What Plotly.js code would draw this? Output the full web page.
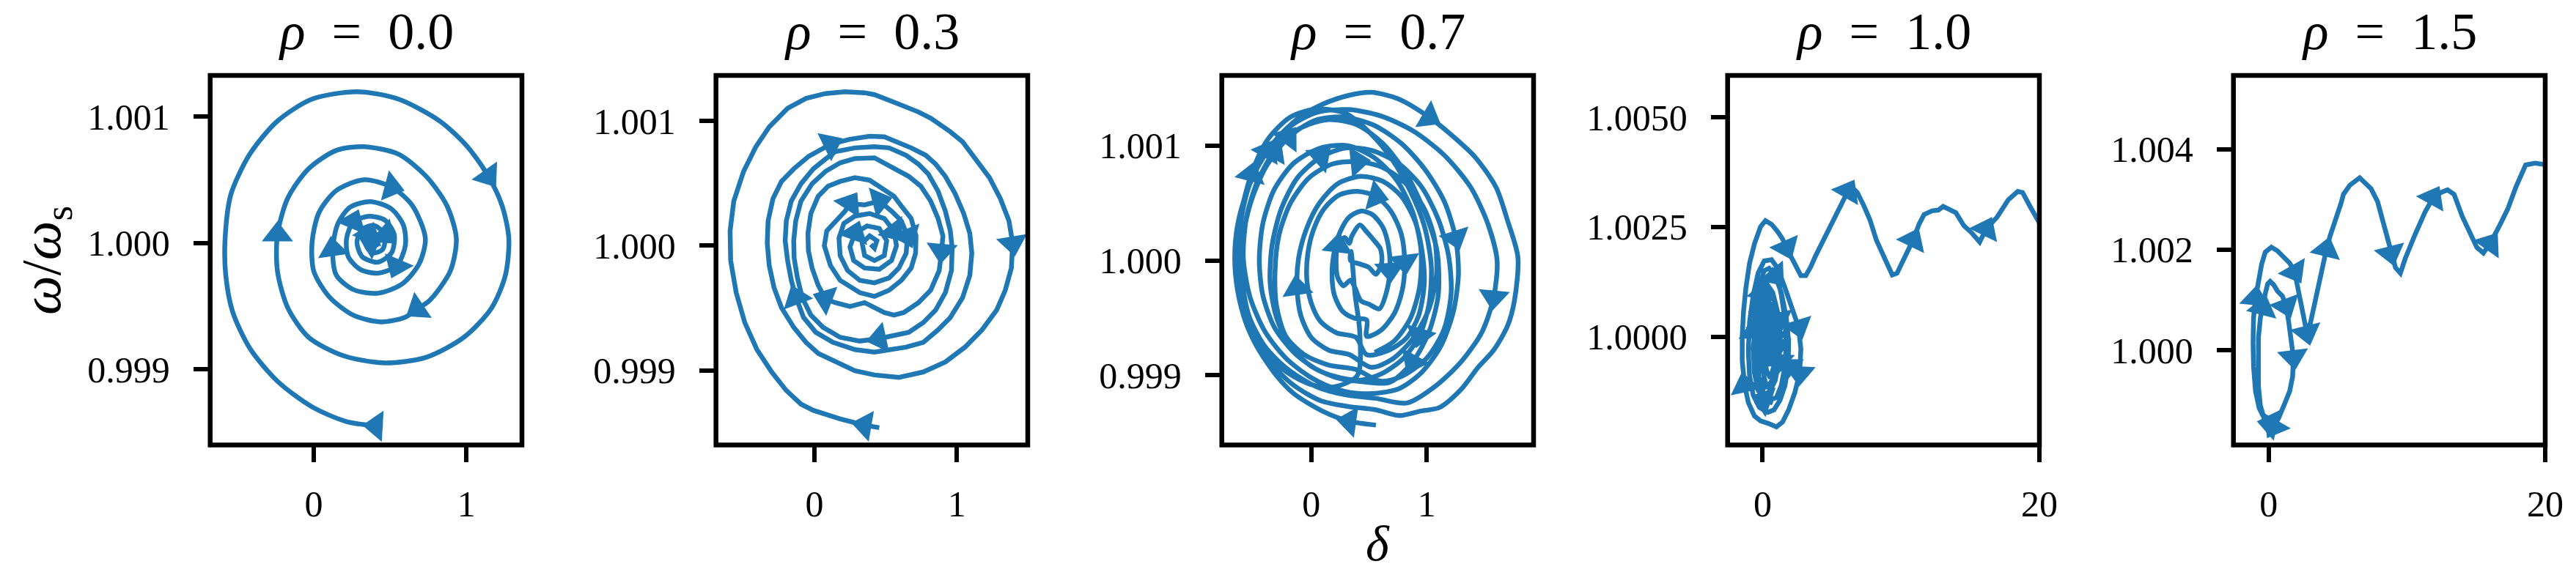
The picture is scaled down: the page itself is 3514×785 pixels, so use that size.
<!DOCTYPE html>
<html><head><meta charset="utf-8">
<script src="https://cdn.plot.ly/plotly-3.0.1.min.js"></script>
<style>html,body{margin:0;padding:0;background:#fff}#chart{width:3514px;height:785px}</style>
</head><body><div id="chart"></div>
<script>
// ---------- data ----------
const rhoLabels = ['0.0', '0.3', '0.7', '1.0', '1.5'];

// rho = 0.0 : delta, omega/omega_s
const p1x = [0.452,0.407,0.215,-0.011,-0.238,-0.419,-0.532,-0.577,-0.581,-0.543,-0.419,-0.238,-0.011,0.283,0.554,0.826,1.007,1.143,1.233,1.278,1.256,1.165,0.984,0.735,0.464,0.192,-0.034,-0.170,-0.238,-0.238,-0.170,-0.034,0.147,0.328,0.554,0.735,0.871,0.934,0.894,0.758,0.679,0.600,0.441,0.260,0.102,0.000,-0.011,0.034,0.147,0.328,0.509,0.645,0.731,0.690,0.577,0.419,0.260,0.147,0.124,0.158,0.238,0.373,0.509,0.588,0.600,0.543,0.419,0.305,0.226,0.215,0.260,0.362,0.464,0.527,0.509,0.419,0.317,0.283,0.317,0.396,0.464,0.452,0.385,0.339,0.362,0.419,0.414,0.378,0.391];
const p1y = [0.998551,0.998554,0.998588,0.998704,0.998907,0.999168,0.999458,0.999748,1.000038,1.000386,1.000704,1.000965,1.001139,1.001197,1.001139,1.000965,1.000762,1.000530,1.000299,1.000038,0.999748,0.999487,0.999255,0.999096,0.999052,0.999110,0.999255,0.999487,0.999777,1.000067,1.000357,1.000588,1.000733,1.000762,1.000704,1.000530,1.000299,1.000038,0.999777,0.999545,0.999481,0.999414,0.999377,0.999429,0.999574,0.999777,1.000009,1.000241,1.000415,1.000501,1.000443,1.000299,1.000038,0.999835,0.999675,0.999603,0.999632,0.999748,0.999951,1.000154,1.000284,1.000328,1.000270,1.000139,0.999980,0.999820,0.999762,0.999791,0.999893,1.000038,1.000168,1.000212,1.000183,1.000067,0.999922,0.999849,0.999893,1.000009,1.000110,1.000139,1.000067,0.999951,0.999922,0.999994,1.000067,1.000052,0.999986,1.000003,1.000032];
const p1Arrows = [1,17,29,40,50,58,65,70,80,84,87];

// rho = 0.3
const p2x = [0.455,0.352,0.180,-0.009,-0.095,-0.198,-0.301,-0.404,-0.490,-0.550,-0.589,-0.593,-0.567,-0.498,-0.412,-0.318,-0.189,-0.060,0.077,0.215,0.352,0.421,0.558,0.730,0.816,0.954,1.040,1.143,1.229,1.306,1.366,1.392,1.383,1.340,1.280,1.177,1.057,0.919,0.765,0.593,0.421,0.284,0.146,0.026,-0.060,
 -0.146,-0.232,-0.284,-0.318,-0.332,-0.326,-0.292,-0.232,-0.146,-0.043,0.060,0.112,0.249,0.387,0.490,0.576,0.679,0.782,0.851,0.919,0.988,1.048,1.091,1.105,1.091,1.040,0.954,0.868,0.765,0.644,0.541,0.421,0.284,0.129,0.009,-0.077,-0.129,
 -0.163,-0.189,-0.206,-0.198,-0.163,-0.095,-0.009,0.077,0.146,0.284,0.421,0.524,0.644,0.730,0.799,0.868,0.919,0.954,0.967,0.962,0.919,0.851,0.765,0.662,0.576,0.455,0.318,0.180,0.060,-0.026,-0.086,-0.120,-0.143,-0.146,-0.132,-0.095,-0.017,0.077,0.180,0.284,0.421,0.541,0.662,0.747,0.816,0.868,0.902,0.893,0.876,0.816,0.730,0.627,0.558,0.490,0.421,0.352,0.249,0.146,0.077,0.026,-0.017,-0.043,-0.046,-0.026,0.026,0.095,0.180,0.284,0.387,0.473,0.558,0.610,0.679,0.713,0.710,0.679,0.610,0.524,0.421,0.318,0.180,0.112,0.069,0.086,0.146,0.215,0.249,0.352,0.455,0.541,0.610,0.653,0.644,0.593,0.524,0.421,0.318,0.232,0.180,0.172,0.206,0.284,0.387,0.490,0.558,0.576,0.541,0.455,0.352,0.275,0.249,0.284,0.369,0.455,0.507,0.490,0.421,0.352,0.335,0.387,0.438,0.421,0.395];
const p2y = [0.998540,0.998560,0.998610,0.998679,0.998729,0.998838,0.998987,0.999166,0.999384,0.999623,0.999881,1.000119,1.000358,1.000596,1.000794,1.000953,1.001102,1.001182,1.001221,1.001235,1.001227,1.001212,1.001152,1.001073,1.001023,1.000914,1.000834,1.000685,1.000546,1.000377,1.000199,1.000020,0.999821,0.999643,0.999484,0.999325,0.999186,0.999067,0.998987,0.998943,0.998963,0.998997,0.999067,0.999136,0.999225,
 0.999345,0.999503,0.999662,0.999841,1.000020,1.000199,1.000377,1.000516,1.000616,1.000715,1.000785,1.000814,1.000854,1.000878,1.000874,1.000834,1.000785,1.000725,1.000655,1.000556,1.000417,1.000258,1.000099,0.999940,0.999762,0.999583,0.999424,0.999325,0.999225,0.999186,0.999166,0.999146,0.999166,0.999225,0.999305,0.999424,0.999583,
 0.999722,0.999881,1.000040,1.000199,1.000358,1.000497,1.000616,1.000695,1.000755,1.000785,1.000794,1.000785,1.000725,1.000655,1.000576,1.000437,1.000278,1.000119,0.999980,0.999801,0.999623,0.999484,0.999384,0.999305,0.999285,0.999255,0.999235,0.999265,0.999345,0.999444,0.999583,0.999742,0.999901,1.000040,1.000199,1.000358,1.000497,1.000596,1.000665,1.000699,1.000705,1.000636,1.000556,1.000477,1.000358,1.000218,1.000079,0.999960,0.999801,0.999643,0.999543,0.999464,0.999444,0.999464,0.999503,0.999543,0.999513,0.999543,0.999573,0.999682,0.999821,0.999960,1.000099,1.000258,1.000397,1.000477,1.000516,1.000546,1.000526,1.000457,1.000397,1.000318,1.000218,1.000079,0.999940,0.999821,0.999722,0.999643,0.999593,0.999623,0.999722,0.999841,1.000000,1.000119,1.000199,1.000278,1.000338,1.000328,1.000358,1.000278,1.000199,1.000079,0.999940,0.999821,0.999742,0.999702,0.999722,0.999801,0.999921,1.000060,1.000179,1.000238,1.000258,1.000218,1.000119,1.000000,0.999881,0.999811,0.999821,0.999881,0.999990,1.000099,1.000159,1.000139,1.000040,0.999921,0.999881,0.999921,1.000020,1.000079,1.000040,0.999980,1.000010];
const p2Arrows = [1,31,56,81,107,129,140,168,170,173,186,193];

// rho = 0.7
const p3x = [0.560,0.330,0.095,-0.150,-0.303,-0.470,-0.570,-0.640,-0.663,-0.640,-0.565,-0.440,-0.300,-0.100,0.095,0.330,0.520,0.750,1.020,1.230,1.420,1.600,1.700,1.790,1.760,1.700,1.580,1.445,1.300,1.110,0.950,0.760,
 0.560,0.322,0.080,-0.160,-0.350,-0.500,-0.590,-0.631,-0.600,-0.520,-0.380,-0.180,0.050,0.322,0.600,0.880,1.150,1.380,1.530,1.610,1.580,1.480,1.300,1.080,0.830,
 0.560,0.300,0.050,-0.200,-0.400,-0.540,-0.600,-0.590,-0.520,-0.390,-0.200,0.030,0.280,0.540,0.780,0.980,1.150,1.250,1.275,1.230,1.120,0.950,0.750,
 0.450,0.220,0.000,-0.220,-0.400,-0.530,-0.589,-0.560,-0.470,-0.320,-0.100,0.150,0.400,0.620,0.820,0.980,1.090,1.100,1.020,0.880,0.680,
 0.450,0.220,0.000,-0.180,-0.300,-0.356,-0.340,-0.260,-0.120,0.080,0.300,0.520,0.750,0.950,1.100,1.190,1.212,1.150,1.000,0.780,0.600,
 0.386,0.150,-0.060,-0.220,-0.300,-0.314,-0.280,-0.180,-0.020,0.180,0.400,0.620,0.820,0.980,1.070,1.085,1.020,0.880,0.700,0.520,
 0.330,0.150,0.000,-0.090,-0.123,-0.110,-0.040,0.070,0.230,0.430,0.620,0.780,0.900,0.960,0.979,0.930,0.820,0.650,0.480,
 0.386,0.220,0.080,0.000,-0.038,-0.030,0.020,0.110,0.240,0.400,0.560,0.690,0.780,0.809,0.790,0.720,0.600,0.480,
 0.480,0.370,0.270,0.200,0.180,0.200,0.250,0.330,0.430,0.530,0.620,0.670,0.682,0.650,0.590,
 0.500,0.430,0.380,0.340,0.280,0.230,0.215,0.230,0.290,0.330,0.350,0.420,0.480,0.540,0.600,0.610,0.560,0.500,0.420,0.340,0.345,0.380,0.420,
 0.400,0.200,0.000,-0.200,-0.400,-0.530,-0.610,-0.640,-0.610,-0.520,-0.380,-0.180,0.050,0.300,0.520,0.700,0.860,0.980,1.040,1.020,0.940,0.800,0.620,0.440,
 0.250,0.050,-0.150,-0.320,-0.420,-0.450,-0.420,-0.320,-0.150,0.080,0.320,0.540,0.740,0.880,0.950,0.940,0.860,0.720,0.550];
const p3y = [0.998567,0.998600,0.998690,0.998840,0.999000,0.999250,0.999470,0.999750,1.000020,1.000300,1.000580,1.000860,1.001060,1.001250,1.001360,1.001440,1.001465,1.001410,1.001250,1.001080,1.000900,1.000640,1.000350,1.000030,0.999650,0.999430,0.999220,0.999070,0.998880,0.998720,0.998690,0.998650,
 0.998700,0.998729,0.998780,0.998920,0.999110,0.999380,0.999650,1.000020,1.000400,1.000700,1.000950,1.001170,1.001290,1.001315,1.001260,1.001130,1.000920,1.000640,1.000320,1.000000,0.999680,0.999380,0.999120,0.998910,0.998760,
 0.998800,0.998830,0.998900,0.999050,0.999250,0.999520,0.999850,1.000200,1.000520,1.000820,1.001070,1.001220,1.001250,1.001180,1.001020,1.000800,1.000520,1.000200,0.999880,0.999550,0.999250,0.999020,0.998880,
 0.998840,0.998880,0.998980,0.999150,0.999380,0.999680,1.000030,1.000380,1.000680,1.000950,1.001150,1.001228,1.001180,1.001020,1.000760,1.000430,1.000080,0.999700,0.999380,0.999120,0.998940,
 0.998944,0.998980,0.999080,0.999250,0.999500,0.999800,1.000130,1.000450,1.000720,1.000900,1.000981,1.000960,1.000850,1.000650,1.000360,1.000040,0.999720,0.999400,0.999150,0.998990,0.998950,
 0.999052,0.999090,0.999180,0.999340,0.999600,0.999900,1.000220,1.000500,1.000720,1.000840,1.000862,1.000810,1.000670,1.000450,1.000180,0.999880,0.999580,0.999320,0.999140,0.999070,
 0.999181,0.999220,0.999330,0.999520,0.999760,1.000020,1.000280,1.000500,1.000670,1.000733,1.000690,1.000560,1.000340,1.000080,0.999800,0.999520,0.999320,0.999210,0.999180,
 0.999332,0.999370,0.999470,0.999630,0.999830,1.000060,1.000270,1.000450,1.000570,1.000603,1.000560,1.000430,1.000230,0.999990,0.999750,0.999540,0.999390,0.999340,
 0.999483,0.999500,0.999560,0.999700,0.999880,1.000080,1.000250,1.000380,1.000431,1.000400,1.000290,1.000120,0.999920,0.999720,0.999580,
 0.999620,0.999650,0.999760,0.999830,0.999780,0.999850,1.000000,1.000130,1.000200,1.000150,1.000210,1.000310,1.000250,1.000180,1.000100,0.999980,0.999880,0.999940,0.999970,1.000000,1.000080,0.999700,0.999380,
 0.999000,0.998900,0.998920,0.999020,0.999200,0.999450,0.999750,1.000050,1.000400,1.000750,1.001050,1.001250,1.001320,1.001280,1.001100,1.000880,1.000600,1.000300,0.999950,0.999620,0.999350,0.999150,0.999020,0.998960,
 0.998980,0.999050,0.999200,0.999420,0.999700,1.000000,1.000320,1.000620,1.000850,1.000980,1.001000,1.000900,1.000700,1.000420,1.000100,0.999780,0.999500,0.999300,0.999200];
const p3Arrows = [1,18,42,52,67,74,89,99,110,132,146,171,174,191,201,226,237];

// rho = 1.0
const p4x = [0.733,0.115,-0.327,-0.592,-0.680,-0.503,-0.150,0.291,0.733,1.086,1.350,1.615,1.704,1.615,1.350,0.997,0.468,
 0.115,-0.238,-0.415,-0.380,-0.238,0.026,0.379,0.733,1.086,1.262,1.174,0.909,0.556,
 0.203,-0.062,-0.150,-0.062,0.115,0.379,0.680,0.909,0.997,0.821,0.556,
 0.291,0.115,0.079,0.203,0.379,0.609,0.733,0.644,0.468,
 0.327,0.221,0.291,0.432,0.556,0.503,
 0.379,0.026,-0.150,-0.097,0.115,0.432,0.821,1.139,1.262,1.174,0.909,0.556,
 0.115,-0.327,-0.592,-0.627,-0.503,-0.238,0.115,0.468,0.909,1.350,1.704,1.880,1.845,1.615,1.262,0.821,
 0.379,-0.238,-0.680,-0.945,-1.033,-0.945,-0.680,-0.327,0.115,0.644,1.086,1.615,2.145,2.587,2.763,2.675,2.322,1.880,1.439,0.997,
 0.379,-0.150,-0.592,-1.033,-1.298,-1.474,-1.474,-1.386,-1.209,-0.945,-0.592,-0.150,0.203,0.644,1.086,1.439,1.704,1.968,2.410,2.763,3.116,3.469,3.822,4.352,4.882,5.411,
 5.809,6.154,6.498,6.843,7.302,7.761,8.220,8.795,9.368,9.713,10.287,10.861,11.320,11.665,12.239,12.698,13.042,13.502,13.961,14.535,15.109,15.683,16.142,16.946,17.750,18.438,18.783,19.357,20.000,20.400];
const p4y = [0.998485,0.998552,0.998775,0.999165,0.999721,1.000334,1.000891,1.001337,1.001504,1.001337,1.000947,1.000390,0.999833,0.999332,0.998886,0.998608,0.998552,
 0.998664,0.998998,0.999443,0.999999,1.000557,1.001002,1.001169,1.001002,1.000557,0.999999,0.999443,0.998998,0.998775,
 0.998942,0.999332,0.999777,1.000223,1.000668,1.000835,1.000668,1.000223,0.999777,0.999332,0.999053,
 0.999220,0.999554,0.999944,1.000334,1.000501,1.000334,0.999944,0.999554,0.999332,
 0.999499,0.999777,1.000111,1.000167,0.999888,0.999610,
 0.999332,0.999499,0.999888,1.000334,1.000780,1.001002,1.000835,1.000390,0.999888,0.999443,0.999109,0.998942,
 0.998831,0.999109,0.999554,1.000111,1.000668,1.001169,1.001504,1.001559,1.001392,1.001002,1.000446,0.999888,0.999332,0.998886,0.998552,0.998329,
 0.998274,0.998385,0.998664,0.999109,0.999666,1.000334,1.000947,1.001448,1.001726,1.001754,1.001559,1.001114,1.000668,1.000223,0.999721,0.999165,0.998719,0.998329,0.998051,0.997940,
 0.998023,0.998079,0.998190,0.998496,0.998886,0.999443,0.999999,1.000557,1.001114,1.001671,1.002116,1.002506,1.002645,1.002562,1.002395,1.002227,1.002033,1.001866,1.001615,1.001392,1.001392,1.001587,1.001838,1.002172,1.002506,1.002896,
 1.003119,1.003311,1.003395,1.003286,1.002993,1.002659,1.002199,1.001781,1.001405,1.001446,1.001823,1.002199,1.002575,1.002784,1.002868,1.002885,1.002968,1.002893,1.002826,1.002533,1.002366,1.002157,1.002450,1.002726,1.003119,1.003311,1.003286,1.002951,1.002592,1.002530];
const p4Arrows = [1,22,27,34,38,44,47,53,59,63,71,76,80,97,99,108,120,131,141,152];

// rho = 1.5
const p5x = [0.556,0.115,-0.327,-0.592,-0.733,-0.768,-0.733,-0.592,-0.415,-0.238,-0.062,0.115,0.380,0.645,0.998,1.263,1.439,1.616,1.793,1.740,1.528,1.175,0.733,0.380,0.026,-0.327,-0.680,-0.945,-1.086,-1.121,-1.086,-0.945,-0.768,-0.503,-0.238,0.203,0.645,1.086,1.528,1.881,2.057,2.234,2.411,2.587,2.764,3.029,3.294,3.559,3.824,4.177,4.442,4.795,5.236,5.412,5.882,6.588,7.412,7.882,8.353,8.824,9.176,9.529,9.882,10.588,11.294,11.882,12.471,12.941,13.412,14.000,14.588,15.059,15.529,16.000,16.706,17.294,17.882,18.588,19.294,20.000,20.470];
const p5y = [0.998505,0.998529,0.998650,0.998893,0.999282,0.999767,1.000252,1.000641,1.000835,1.001126,1.001320,1.001369,1.001296,1.001175,1.001078,1.000883,1.000592,1.000252,0.999864,0.999476,0.999184,0.998942,0.998650,0.998481,0.998529,0.998650,0.998845,0.999184,0.999670,1.000155,1.000641,1.001029,1.001320,1.001709,1.001951,1.002048,1.001976,1.001854,1.001733,1.001563,1.001320,1.001078,1.000786,1.000544,1.000349,1.000544,1.000883,1.001272,1.001612,1.002000,1.002267,1.002534,1.002922,1.003102,1.003285,1.003431,1.003212,1.002956,1.002445,1.001934,1.001642,1.001533,1.001825,1.002299,1.002737,1.003029,1.003139,1.003190,1.003102,1.002664,1.002299,1.002044,1.001934,1.002117,1.002482,1.002810,1.003248,1.003686,1.003723,1.003686,1.003672];
const p5Arrows = [1,8,15,18,23,31,39,44,49,59,65,73];

// axes
const xTickVals = [[0, 1], [0, 1], [0, 1], [0, 20], [0, 20]];
const xTickText = [['0', '1'], ['0', '1'], ['0', '1'], ['0', '20'], ['0', '20']];
const yTickVals = [[0.999, 1.000, 1.001], [0.999, 1.000, 1.001], [0.999, 1.000, 1.001], [1.0000, 1.0025, 1.0050], [1.000, 1.002, 1.004]];
const yTickText = [['0.999', '1.000', '1.001'], ['0.999', '1.000', '1.001'], ['0.999', '1.000', '1.001'], ['1.0000', '1.0025', '1.0050'], ['1.000', '1.002', '1.004']];
const xRanges = [[-0.679, 1.364], [-0.692, 1.498], [-0.775, 1.926], [-2.53, 20.0], [-2.54, 20.0]];
const yRanges = [[0.998403, 1.001326], [0.998401, 1.001366], [0.998394, 1.001612], [0.997528, 1.005956], [0.998112, 1.005468]];

// ---------- figure ----------
const W = 3514, H = 785;
const FONT = 'Liberation Serif, DejaVu Serif, serif';
const BLUE = '#1f77b4';
const series = [[p1x, p1y, p1Arrows, 'spline'], [p2x, p2y, p2Arrows, 'linear'], [p3x, p3y, p3Arrows, 'spline'], [p4x, p4y, p4Arrows, 'linear'], [p5x, p5y, p5Arrows, 'linear']];

const panelLeft = 286.7, panelW = 425.3, pitch = 690, panelTop = 103, panelBot = 607.5;
const traces = [], shapes = [], annotations = [];
const layout = {
  width: W, height: H, margin: {l: 0, r: 0, t: 0, b: 0},
  paper_bgcolor: '#fff', plot_bgcolor: '#fff', showlegend: false,
  font: {family: FONT, color: '#000'}
};
const SP = '\u2002';

series.forEach((s, i) => {
  const n = i === 0 ? '' : String(i + 1);
  const [xs, ys, arr, shape] = s;
  traces.push({
    type: 'scatter', mode: 'lines+markers', x: xs, y: ys,
    xaxis: 'x' + n, yaxis: 'y' + n,
    line: {color: BLUE, width: 6.5, shape: shape, smoothing: 0.8},
    marker: {symbol: 'triangle-up', angleref: 'previous', color: BLUE, opacity: 1,
             size: xs.map((_, k) => arr.includes(k) ? 37 : 0), line: {width: 0}},
    hoverinfo: 'skip', cliponaxis: true
  });
  const x0 = (panelLeft + pitch * i) / W, x1 = (panelLeft + panelW + pitch * i) / W;
  const axBase = {
    showgrid: false, zeroline: false, showline: false, ticks: 'outside',
    ticklen: 22, tickwidth: 6, tickcolor: '#000',
    tickfont: {family: FONT, size: 50, color: '#000'}, fixedrange: true
  };
  layout['xaxis' + n] = Object.assign({}, axBase, {
    domain: [x0, x1], range: xRanges[i], anchor: 'y' + n,
    tickmode: 'array', tickvals: xTickVals[i], ticktext: xTickText[i], ticklabelstandoff: 14
  });
  layout['yaxis' + n] = Object.assign({}, axBase, {
    domain: [(H - panelBot) / H, (H - panelTop) / H], range: yRanges[i], anchor: 'x' + n,
    tickmode: 'array', tickvals: yTickVals[i], ticktext: yTickText[i], ticklabelstandoff: 22
  });
  shapes.push({type: 'rect', xref: 'x' + n + ' domain', yref: 'y' + n + ' domain',
    x0: 0, x1: 1, y0: 0, y1: 1, line: {color: '#000', width: 6.5}, layer: 'above'});
  annotations.push({xref: 'x' + n + ' domain', yref: 'paper', x: 0.5, y: (H - 43) / H,
    xanchor: 'center', yanchor: 'middle', showarrow: false,
    text: '<i>ρ</i>' + SP + '=' + SP + rhoLabels[i], font: {family: FONT, size: 72, color: '#000'}});
});
annotations.push({xref: 'paper', yref: 'paper', x: 62 / W, y: (H - 355) / H, xanchor: 'center', yanchor: 'middle',
  showarrow: false, textangle: -90, text: '<i>ω</i>/<i>ω</i><sub>s</sub>', font: {family: FONT, size: 76, color: '#000'}});
annotations.push({xref: 'paper', yref: 'paper', x: 1879 / W, y: (H - 742) / H, xanchor: 'center', yanchor: 'middle',
  showarrow: false, text: '<i>δ</i>', font: {family: FONT, size: 68, color: '#000'}});
layout.shapes = shapes;
layout.annotations = annotations;

Plotly.newPlot('chart', traces, layout, {staticPlot: true, displayModeBar: false});
</script>
</body></html>
